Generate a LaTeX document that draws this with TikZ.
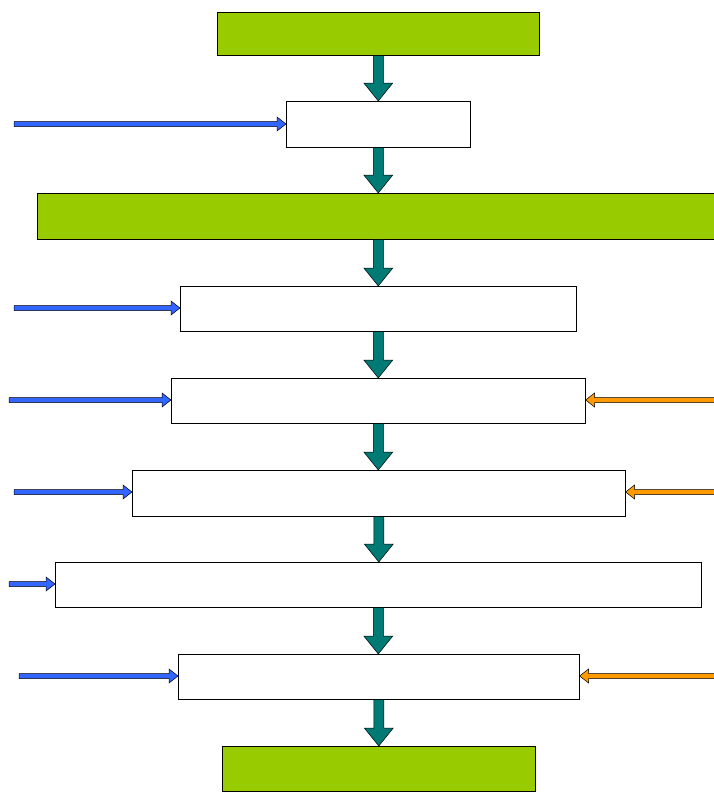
\documentclass[tikz,border=0pt]{standalone}
\usetikzlibrary{calc}
\definecolor{leafgreen}{HTML}{99CC00}
\definecolor{flowteal}{HTML}{007A74}
\definecolor{inblue}{HTML}{3366FF}
\definecolor{inorange}{HTML}{FF9900}
\tikzstyle{stage} = [draw=black, line width=0.6pt, inner sep=0pt, anchor=north west]
\tikzstyle{keystage} = [stage, fill=leafgreen]
\tikzstyle{fatline} = [draw=black, line width=0.5pt, line join=miter]
% block arrow: style, from, to, half shaft, half head, head length
\newcommand{\blockarrow}[6]{%
	\draw[fatline,#1] ($(#2)!#4!90:(#3)$) -- ($(#3)!#6!(#2)!#4!90:(#3)$)
	-- ($(#3)!#6!(#2)!#5!90:(#3)$) -- (#3)
	-- ($(#3)!#6!(#2)!#5!-90:(#3)$) -- ($(#3)!#6!(#2)!#4!-90:(#3)$)
	-- ($(#2)!#4!-90:(#3)$) -- cycle;}
\newcommand{\flowarrow}[2]{\blockarrow{fill=flowteal}{#1}{#2}{5pt}{14.5pt}{18pt}}
\newcommand{\downstep}[2]{\flowarrow{#1.south}{#1.south |- #2.north}}
\newcommand{\feedin}[3]{\blockarrow{fill=#1}{#2}{#3 |- #2}{2.5pt}{7pt}{9pt}}

\begin{document}
\begin{tikzpicture}[x=1pt,y=-1pt]
	\useasboundingbox (0,0) rectangle (714,792);
	% stages
	\node[keystage, minimum width=322pt, minimum height=43pt] (s1) at (217,12) {};
	\node[stage, minimum width=184pt, minimum height=46pt] (s2) at (286,101) {};
	\node[keystage, minimum width=690pt, minimum height=46pt] (s3) at (37,193) {};
	\node[stage, minimum width=396pt, minimum height=45pt] (s4) at (180,286) {};
	\node[stage, minimum width=414pt, minimum height=45pt] (s5) at (171,378) {};
	\node[stage, minimum width=493pt, minimum height=46pt] (s6) at (132,470) {};
	\node[stage, minimum width=646pt, minimum height=45pt] (s7) at (55,562) {};
	\node[stage, minimum width=401pt, minimum height=45pt] (s8) at (178,654) {};
	\node[keystage, minimum width=313pt, minimum height=45pt] (s9) at (222,746) {};
	% main flow
	\foreach \a/\b in {s1/s2, s2/s3, s4/s5, s5/s6, s6/s7, s7/s8, s8/s9}
		\downstep{\a}{\b};
	\flowarrow{s4.north |- s3.south}{s4.north}
	% inputs from the left
	\coordinate (b2) at (14,124);
	\coordinate (b4) at (14,308);
	\coordinate (b5) at (9,400);
	\coordinate (b6) at (14,492);
	\coordinate (b7) at (9,584);
	\coordinate (b8) at (19,676);
	\feedin{inblue}{b2}{s2.west}
	\feedin{inblue}{b4}{s4.west}
	\feedin{inblue}{b5}{s5.west}
	\feedin{inblue}{b6}{s6.west}
	\feedin{inblue}{b7}{s7.west}
	\feedin{inblue}{b8}{s8.west}
	% inputs from the right
	\coordinate (o5) at (720,400);
	\coordinate (o6) at (720,492);
	\coordinate (o8) at (720,676);
	\feedin{inorange}{o5}{s5.east}
	\feedin{inorange}{o6}{s6.east}
	\feedin{inorange}{o8}{s8.east}
\end{tikzpicture}
\end{document}
